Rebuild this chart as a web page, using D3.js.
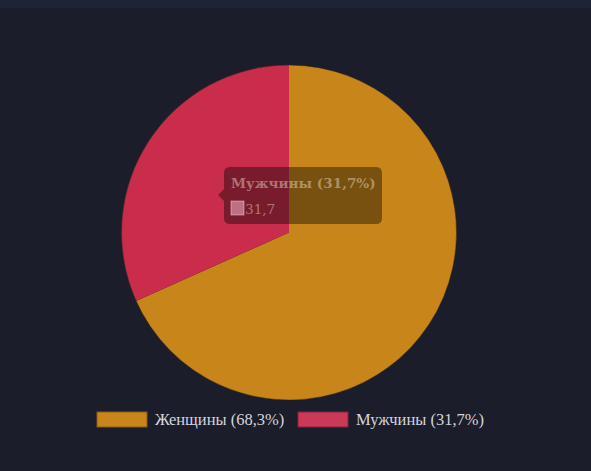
<!DOCTYPE html>
<html><head><meta charset="utf-8">
<script src="https://cdn.jsdelivr.net/npm/d3@7"></script>
<style>
html,body{margin:0;padding:0;background:#1b1d2b;}
svg{display:block;}
</style></head>
<body>
<svg id="c" width="591" height="471"></svg>
<script>
const categories = ["Женщины", "Мужчины"];
const values = [68.3, 31.7];
const colors = ["#c8861a", "#c92d4b"];
const legendLabels = ["Женщины (68,3%)", "Мужчины (31,7%)"];
const tooltipTitle = "Мужчины (31,7%)";
const tooltipValue = "31,7";

const svg = d3.select("#c");
const W = 591, H = 471;
svg.append("rect").attr("width", W).attr("height", H).attr("fill", "#1b1d2b");
svg.append("rect").attr("width", W).attr("height", 8).attr("fill", "#1f2336");

const cx = 289, cy = 232.5, r = 167.5;
const data = categories.map((c, i) => ({cat: c, v: values[i], col: colors[i]}));
const pie = d3.pie().value(d => d.v).sort(null);
const arc = d3.arc().innerRadius(0).outerRadius(r);
const g = svg.append("g").attr("transform", `translate(${cx},${cy})`);
g.selectAll("path").data(pie(data)).join("path")
  .attr("d", arc)
  .attr("fill", d => d.data.col);
g.append("circle").attr("r", r).attr("fill", "none")
  .attr("stroke", "#3a2410").attr("stroke-width", 0.8).attr("stroke-opacity", 0.6);

// tooltip
const tx = 224, ty = 167, tw = 158, th = 57, rr = 6;
const tp = d3.path();
tp.moveTo(tx + rr, ty);
tp.lineTo(tx + tw - rr, ty);
tp.quadraticCurveTo(tx + tw, ty, tx + tw, ty + rr);
tp.lineTo(tx + tw, ty + th - rr);
tp.quadraticCurveTo(tx + tw, ty + th, tx + tw - rr, ty + th);
tp.lineTo(tx + rr, ty + th);
tp.quadraticCurveTo(tx, ty + th, tx, ty + th - rr);
tp.lineTo(tx, 201);
tp.lineTo(tx - 6, 195);
tp.lineTo(tx, 189);
tp.lineTo(tx, ty + rr);
tp.quadraticCurveTo(tx, ty, tx + rr, ty);
tp.closePath();
svg.append("path").attr("d", tp.toString()).attr("fill", "rgba(0,0,0,0.4)");
svg.append("text").attr("x", 231).attr("y", 188)
  .attr("font-family", "'DejaVu Serif', serif").attr("font-weight", "bold").attr("font-size", 13.6)
  .attr("fill", "#f4e4d0").attr("fill-opacity", 0.45).text(tooltipTitle);
svg.append("rect").attr("x", 231).attr("y", 201).attr("width", 13).attr("height", 14)
  .attr("fill", "#f0a8bc").attr("fill-opacity", 0.6).attr("stroke", "#ffffff").attr("stroke-opacity", 0.4);
svg.append("text").attr("x", 245).attr("y", 214)
  .attr("font-family", "'DejaVu Serif', serif").attr("font-size", 13.6)
  .attr("fill", "#f4e4d0").attr("fill-opacity", 0.45).text(tooltipValue);

// legend
const legX = [97, 298];
const lg = svg.append("g");
data.forEach((d, i) => {
  lg.append("rect").attr("x", legX[i]).attr("y", 412).attr("width", 50).attr("height", 15)
    .attr("fill", i === 0 ? "#c8861a" : "#c93a58")
    .attr("stroke", i === 0 ? "#8a5a10" : "#8a2038").attr("stroke-width", 1);
  lg.append("text").attr("x", legX[i] + 58).attr("y", 424.5)
    .attr("font-family", "'Liberation Serif', serif").attr("font-size", 16.5)
    .attr("fill", "#d4d4dc").text(legendLabels[i]);
});
</script>
</body></html>
